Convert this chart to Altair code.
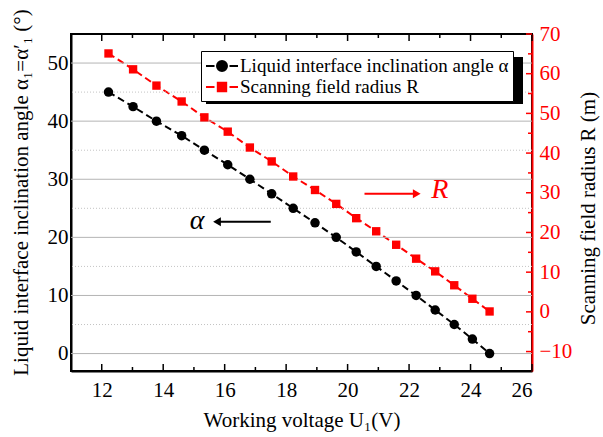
import altair as alt
import pandas as pd

FONT = "Liberation Serif"

# ---- data ----
voltage = [12.22, 13.02, 13.78, 14.60, 15.34, 16.10, 16.82, 17.53, 18.23, 18.94,
           19.63, 20.28, 20.93, 21.58, 22.23, 22.85, 23.47, 24.06, 24.62]
alpha = [45, 42.5, 40, 37.5, 35, 32.5, 30, 27.5, 25, 22.5,
         20, 17.5, 15, 12.5, 10, 7.5, 5, 2.5, 0]
radius = [65.1, 61.1, 57.0, 53.0, 49.0, 45.4, 41.4, 37.9, 34.1, 30.7,
          27.2, 23.6, 20.3, 16.9, 13.4, 10.2, 6.7, 3.3, 0.1]

x_major_ticks = [12, 14, 16, 18, 20, 22, 24, 26]
x_minor_ticks = [11, 13, 15, 17, 19, 21, 23, 25]
alpha_major = [0, 10, 20, 30, 40, 50]
alpha_minor = [5, 15, 25, 35, 45]
radius_major = [-10, 0, 10, 20, 30, 40, 50, 60, 70]
radius_minor = [-5, 5, 15, 25, 35, 45, 55, 65]

series_names = ["Liquid interface inclination angle α", "Scanning field radius R"]
series_colors = ["#000000", "#ff0000"]

# annotations (data coordinates, left axis)
ann_text = ["α", "R"]
ann_x = [15.1, 23.0]
ann_y = [22.8, 28.2]
arrow_x = [17.5, 20.55]
arrow_x2 = [15.75, 22.25]
arrow_y = [22.7, 27.5]

W, H = 461, 337

df_a = pd.DataFrame({"U": voltage, "alpha": alpha})
df_r = pd.DataFrame({"U": voltage, "R": radius})

xs = alt.Scale(domain=[11, 26], nice=False, zero=False)
ya = alt.Scale(domain=[-3, 55], nice=False, zero=False)
yr = alt.Scale(domain=[-14.9, 70], nice=False, zero=False)

x_axis = alt.Axis(
    values=x_major_ticks, orient="bottom", title="Working voltage U₁(V)",
    ticks=False, grid=False, labelPadding=8, domainColor="black", domainWidth=2,
    labelFont=FONT, labelFontSize=21, labelColor="black",
    titleFont=FONT, titleFontSize=21, titleFontWeight="normal", titleColor="black",
    titlePadding=9,
)
y_axis_left = alt.Axis(
    values=alpha_major, orient="left", title="Liquid interface inclination angle α₁=α′₁ (°)",
    ticks=False, grid=False, labelPadding=3, domainColor="black", domainWidth=2,
    labelFont=FONT, labelFontSize=21, labelColor="black",
    titleFont=FONT, titleFontSize=21, titleFontWeight="normal", titleColor="black",
    titlePadding=16, titleY=158,
)
y_axis_right = alt.Axis(
    values=radius_major, orient="right", title="Scanning field radius R (m)",
    ticks=False, grid=False, labelPadding=7, domainColor="red", domainWidth=2,
    labelFont=FONT, labelFontSize=21, labelColor="red",
    titleFont=FONT, titleFontSize=21, titleFontWeight="normal", titleColor="black",
    titleAngle=270, titlePadding=27, titleY=174,
)

line_a = alt.Chart(df_a).mark_line(color="black", strokeWidth=2, strokeDash=[7, 4]).encode(
    x=alt.X("U:Q", scale=xs, axis=x_axis),
    y=alt.Y("alpha:Q", scale=ya, axis=y_axis_left),
)
line_r = alt.Chart(df_r).mark_line(color="red", strokeWidth=2, strokeDash=[7, 4]).encode(
    x=alt.X("U:Q", scale=xs, axis=None),
    y=alt.Y("R:Q", scale=yr, axis=y_axis_right),
)
grid_major = alt.Chart(pd.DataFrame({"v": alpha_major})).mark_rule(
    color="#b4b4b4", strokeWidth=1
).encode(y=alt.Y("v:Q", scale=ya, axis=None))
grid_minor = alt.Chart(pd.DataFrame({"v": alpha_minor})).mark_rule(
    color="#c4c4c4", strokeWidth=1, strokeDash=[1, 2]
).encode(y=alt.Y("v:Q", scale=ya, axis=None))

points_a = alt.Chart(df_a).mark_point(filled=True, shape="circle", size=90, color="black", opacity=1).encode(
    x=alt.X("U:Q", scale=xs, axis=None),
    y=alt.Y("alpha:Q", scale=ya, axis=None),
)
points_r = alt.Chart(df_r).mark_point(filled=True, shape="square", size=70, color="red", opacity=1).encode(
    x=alt.X("U:Q", scale=xs, axis=None),
    y=alt.Y("R:Q", scale=yr, axis=None),
)

tick_bottom_major = alt.Chart(pd.DataFrame({"t": x_major_ticks})).mark_rule(color="black", strokeWidth=1.5).encode(
    x=alt.X("t:Q", scale=xs, axis=None), y=alt.value(H), y2=alt.value(H - 7))
tick_bottom_minor = alt.Chart(pd.DataFrame({"t": x_minor_ticks})).mark_rule(color="black", strokeWidth=1.5).encode(
    x=alt.X("t:Q", scale=xs, axis=None), y=alt.value(H), y2=alt.value(H - 4))
tick_top_major = alt.Chart(pd.DataFrame({"t": x_major_ticks})).mark_rule(color="black", strokeWidth=1.5).encode(
    x=alt.X("t:Q", scale=xs, axis=None), y=alt.value(0), y2=alt.value(7))
tick_top_minor = alt.Chart(pd.DataFrame({"t": x_minor_ticks})).mark_rule(color="black", strokeWidth=1.5).encode(
    x=alt.X("t:Q", scale=xs, axis=None), y=alt.value(0), y2=alt.value(4))
tick_right_major = alt.Chart(pd.DataFrame({"t": radius_major})).mark_rule(color="red", strokeWidth=1.5).encode(
    y=alt.Y("t:Q", scale=yr, axis=None), x=alt.value(W), x2=alt.value(W - 6))
tick_right_minor = alt.Chart(pd.DataFrame({"t": radius_minor})).mark_rule(color="red", strokeWidth=1.5).encode(
    y=alt.Y("t:Q", scale=yr, axis=None), x=alt.value(W), x2=alt.value(W - 4))

arrows_df = pd.DataFrame({"x": arrow_x, "x2": arrow_x2, "y": arrow_y, "c": series_colors,
                          "shape": ["triangle-left", "triangle-right"]})
arrow_lines = alt.Chart(arrows_df).mark_rule(strokeWidth=2).encode(
    x=alt.X("x:Q", scale=xs, axis=None), x2="x2:Q",
    y=alt.Y("y:Q", scale=ya, axis=None),
    color=alt.Color("c:N", scale=None),
)
arrow_heads = alt.Chart(arrows_df).mark_point(filled=True, size=80, opacity=1).encode(
    x=alt.X("x2:Q", scale=xs, axis=None),
    y=alt.Y("y:Q", scale=ya, axis=None),
    color=alt.Color("c:N", scale=None),
    shape=alt.Shape("shape:N", scale=None),
)
ann_df = pd.DataFrame({"x": ann_x, "y": ann_y, "t": ann_text, "c": series_colors})
ann_labels = alt.Chart(ann_df).mark_text(font=FONT, fontStyle="italic", fontSize=28).encode(
    x=alt.X("x:Q", scale=xs, axis=None),
    y=alt.Y("y:Q", scale=ya, axis=None),
    text="t:N",
    color=alt.Color("c:N", scale=None),
)

shadow = alt.Chart(pd.DataFrame({"k": [0]})).mark_rect(color="black").encode(
    x=alt.value(135), x2=alt.value(452), y=alt.value(23), y2=alt.value(70))

path_c = "M-1,0L-0.15,0M1.35,0L2.2,0M1.1,0A0.5,0.5,0,1,1,0.1,0A0.5,0.5,0,1,1,1.1,0Z"
path_s = "M-1,0L-0.15,0M1.35,0L2.2,0M0.18,-0.42L1.02,-0.42L1.02,0.42L0.18,0.42Z"
leg = alt.Legend(title=None, orient="none", legendX=130, legendY=17, fillColor="white",
                 strokeColor="black", padding=4, labelFont=FONT, labelFontSize=19,
                 labelColor="black", symbolSize=400, symbolStrokeWidth=2, labelOffset=13,
                 rowPadding=0, labelLimit=500)
legend_df = pd.DataFrame({"series": series_names, "U": [voltage[0]] * 2, "alpha": [alpha[0]] * 2})
legend_layer = alt.Chart(legend_df).mark_point(filled=True, opacity=0).encode(
    x=alt.X("U:Q", scale=xs, axis=None),
    y=alt.Y("alpha:Q", scale=ya, axis=None),
    fill=alt.Fill("series:N", scale=alt.Scale(domain=series_names, range=series_colors), legend=leg),
    stroke=alt.Stroke("series:N", scale=alt.Scale(domain=series_names, range=series_colors), legend=leg),
    shape=alt.Shape("series:N", scale=alt.Scale(domain=series_names, range=[path_c, path_s]), legend=leg),
)

chart = alt.layer(
    line_a, line_r, grid_major, grid_minor,
    tick_bottom_major, tick_bottom_minor, tick_top_major, tick_top_minor,
    tick_right_major, tick_right_minor,
    points_a, points_r, arrow_lines, arrow_heads, ann_labels, shadow, legend_layer,
).resolve_scale(y="independent").resolve_axis(x="independent", y="independent").properties(
    width=W, height=H,
    autosize=alt.AutoSizeParams(type="none"),
    padding={"left": 71, "top": 34, "right": 603 - 71 - W, "bottom": 437 - 34 - H},
    background="white",
).configure_view(stroke="black", strokeWidth=2)

chart.save("out.html", embed_options={"renderer": "svg", "actions": False})
